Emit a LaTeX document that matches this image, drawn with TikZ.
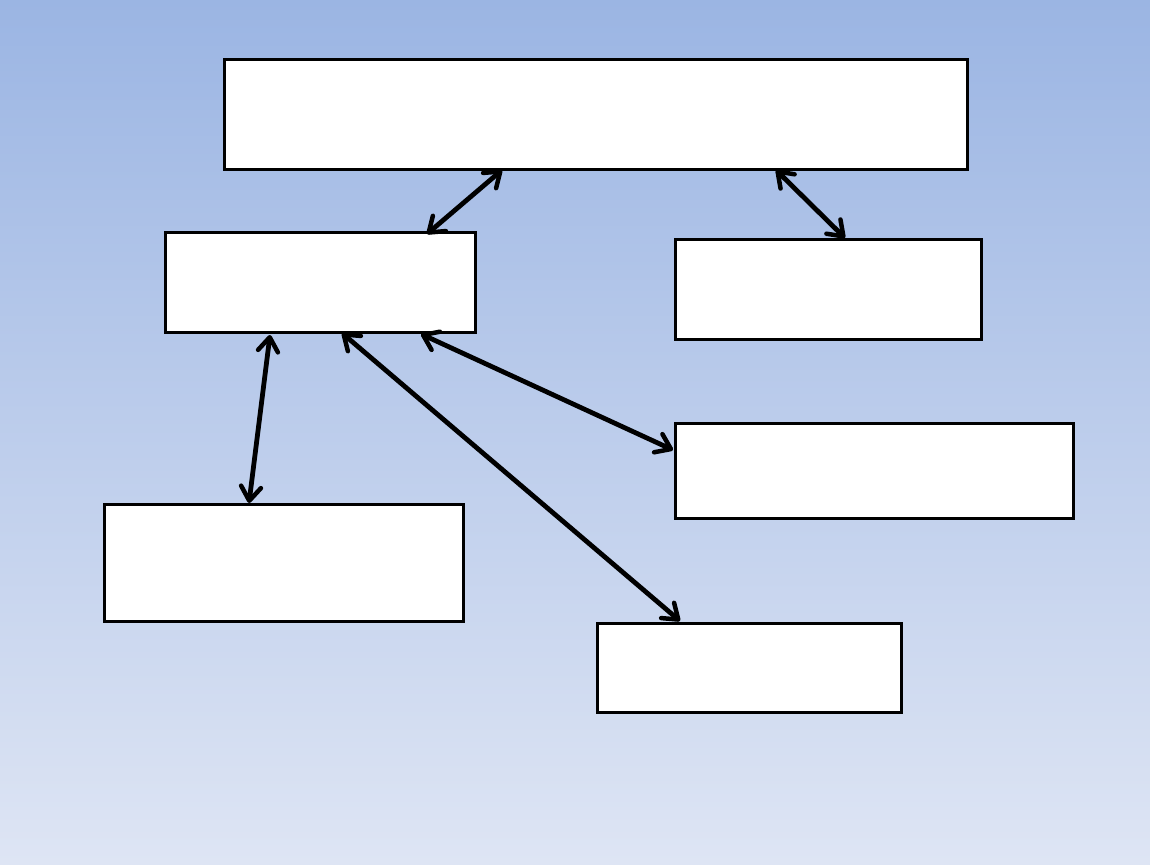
\documentclass[tikz,border=0pt]{standalone}
\usetikzlibrary{arrows.meta}
\definecolor{bgtop}{HTML}{9BB5E3}
\definecolor{bgbot}{HTML}{DEE5F4}
\begin{document}
\begin{tikzpicture}[x=1pt,y=-1pt,
  box/.style={draw=black,line width=3pt,fill=white},
  link/.style={line width=4.8pt,{Straight Barb[length=14pt,width=20pt,line width=4.5pt,round]}-{Straight Barb[length=14pt,width=20pt,line width=4.5pt,round]}}]
\shade[top color=bgtop,bottom color=bgbot] (0,0) rectangle (1150,864);
\useasboundingbox (0,0) rectangle (1150,864);
\draw[box] (224,60) rectangle (967,169);
\draw[box] (165,232) rectangle (475,332);
\draw[box] (675,239) rectangle (981,339);
\draw[box] (675,423) rectangle (1073,518);
\draw[box] (104,504) rectangle (463,621);
\draw[box] (597,623) rectangle (901,712);
\coordinate (a1) at (502,170);
\coordinate (b1) at (427,234);
\coordinate (a2) at (776,170);
\coordinate (c1) at (845,238);
\coordinate (b2) at (270,335);
\coordinate (e1) at (249,503);
\coordinate (b3) at (342,333);
\coordinate (f1) at (680,621);
\coordinate (b4) at (421,334);
\coordinate (d1) at (673,450);
\draw[link] (a1) -- (b1);
\draw[link] (a2) -- (c1);
\draw[link] (b2) -- (e1);
\draw[link] (b3) -- (f1);
\draw[link] (b4) -- (d1);
\end{tikzpicture}
\end{document}
